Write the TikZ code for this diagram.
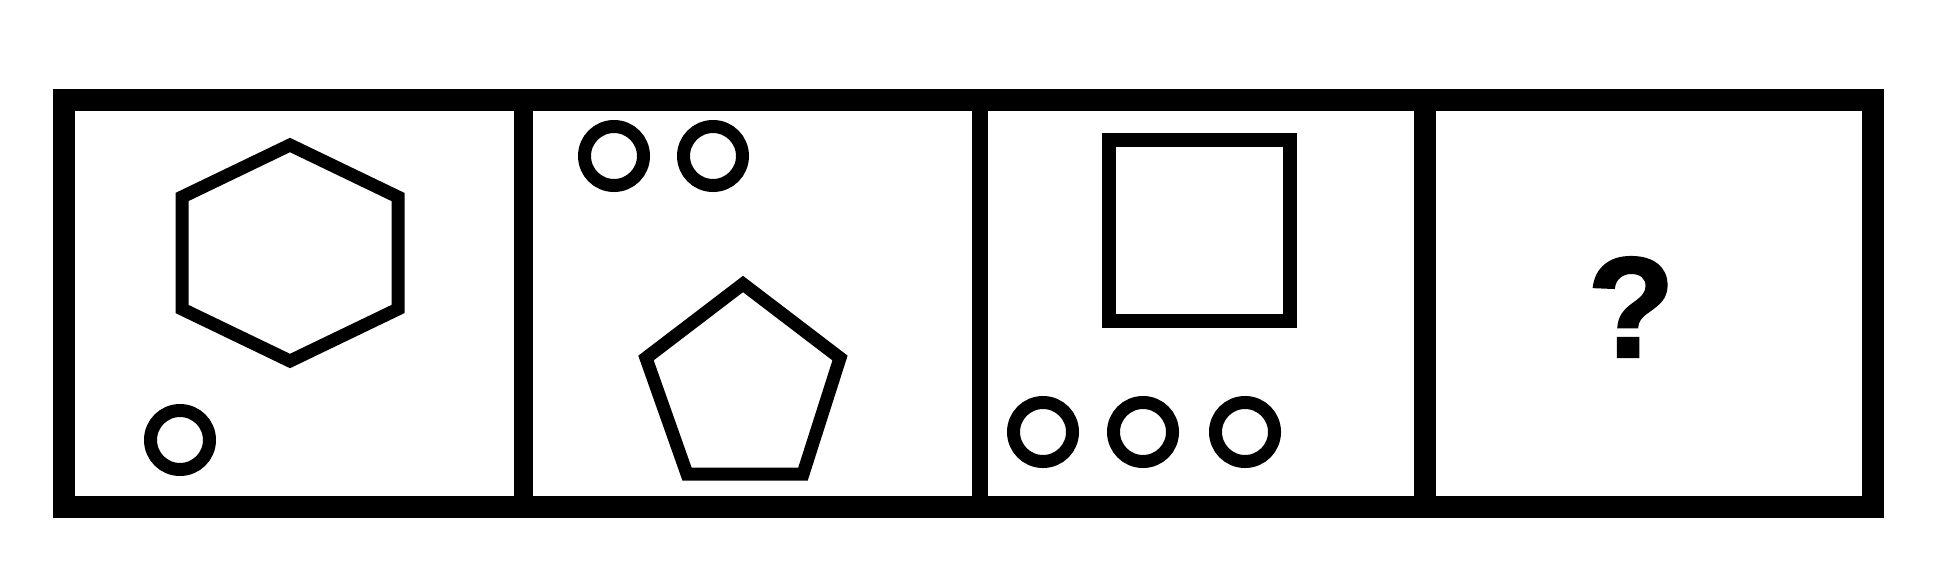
\documentclass[tikz,border=0pt]{standalone}
\usepackage{fontspec}
\newfontfamily\qmarkfont{Liberation Sans Bold}[FakeBold=1.6]
\usetikzlibrary{positioning}

\begin{document}
\begin{tikzpicture}[x=1pt, y=-1pt,
    ring/.style={circle, draw=black, line width=13pt, minimum size=59pt, inner sep=0pt},
    figline/.style={draw=black, line width=13pt},
    frameline/.style={draw=black, line width=22pt}
]
\useasboundingbox (0,0) rectangle (1956,560);
% frame and dividers
\draw[frameline] (64,99.5) rectangle (1873,506.5);
\draw[frameline, line width=19pt] (523.5,99.5) -- (523.5,506.5);
\draw[frameline, line width=16pt] (980,99.5) -- (980,506.5);
\draw[frameline] (1425,99.5) -- (1425,506.5);
% panel 1
\draw[figline] (290,145) -- (398,197) -- (398,309) -- (290,361) -- (182,309) -- (182,197) -- cycle;
\node[ring](c1) at (180,440){};
% panel 2
\node[ring](c2a) at (614,156){};
\node[ring](c2b)[right = 27pt of c2a]{};
\draw[figline] (743,284) -- (840,358) -- (803,474) -- (687,474) -- (646,358) -- cycle;
% panel 3
\draw[figline, line width=14pt] (1109,140) rectangle (1290,321);
\node[ring](c3a) at (1043,432){};
\node[ring](c3b)[right = 28pt of c3a]{};
\node[ring](c3c)[right = 30pt of c3b]{};
% panel 4
\node[font=\qmarkfont\fontsize{143}{143}\selectfont](q) at (1631,307){?};
\end{tikzpicture}
\end{document}
